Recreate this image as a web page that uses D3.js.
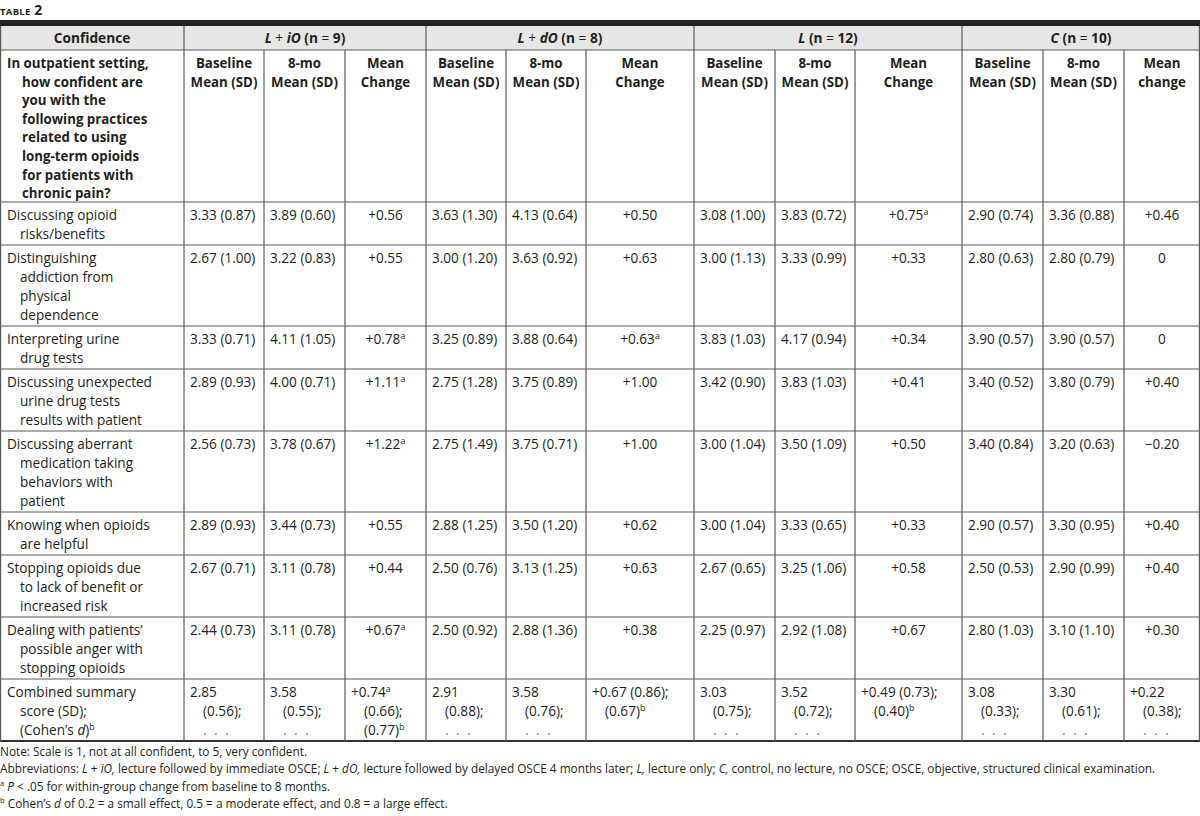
<!DOCTYPE html>
<html>
<head>
<meta charset="utf-8">
<script src="https://cdn.jsdelivr.net/npm/d3@7"></script>
<style>
  body { margin: 0; background: #fff; }
  svg { display: block; font-family: 'Open Sans', sans-serif; }
</style>
</head>
<body>
<svg id="chart" width="1200" height="816"></svg>
<script>
// ---- data ----
var groups = ['L + iO', 'L + dO', 'L', 'C'];
var groupN = [9, 8, 12, 10];

var practices = [
  ['Discussing opioid', 'risks/benefits'],
  ['Distinguishing', 'addiction from', 'physical', 'dependence'],
  ['Interpreting urine', 'drug tests'],
  ['Discussing unexpected', 'urine drug tests', 'results with patient'],
  ['Discussing aberrant', 'medication taking', 'behaviors with', 'patient'],
  ['Knowing when opioids', 'are helpful'],
  ['Stopping opioids due', 'to lack of benefit or', 'increased risk'],
  ['Dealing with patients\u2019', 'possible anger with', 'stopping opioids']
];

var question = ['In outpatient setting,', 'how confident are', 'you with the',
  'following practices', 'related to using', 'long-term opioids',
  'for patients with', 'chronic pain?'];

// L + iO
var liO_base = [3.33, 2.67, 3.33, 2.89, 2.56, 2.89, 2.67, 2.44];
var liO_baseSD = [0.87, 1.00, 0.71, 0.93, 0.73, 0.93, 0.71, 0.73];
var liO_mo8 = [3.89, 3.22, 4.11, 4.00, 3.78, 3.44, 3.11, 3.11];
var liO_mo8SD = [0.60, 0.83, 1.05, 0.71, 0.67, 0.73, 0.78, 0.78];
var liO_change = [0.56, 0.55, 0.78, 1.11, 1.22, 0.55, 0.44, 0.67];
var liO_sig = [0, 0, 1, 1, 1, 0, 0, 1];
// L + dO
var ldO_base = [3.63, 3.00, 3.25, 2.75, 2.75, 2.88, 2.50, 2.50];
var ldO_baseSD = [1.30, 1.20, 0.89, 1.28, 1.49, 1.25, 0.76, 0.92];
var ldO_mo8 = [4.13, 3.63, 3.88, 3.75, 3.75, 3.50, 3.13, 2.88];
var ldO_mo8SD = [0.64, 0.92, 0.64, 0.89, 0.71, 1.20, 1.25, 1.36];
var ldO_change = [0.50, 0.63, 0.63, 1.00, 1.00, 0.62, 0.63, 0.38];
var ldO_sig = [0, 0, 1, 0, 0, 0, 0, 0];
// L
var l_base = [3.08, 3.00, 3.83, 3.42, 3.00, 3.00, 2.67, 2.25];
var l_baseSD = [1.00, 1.13, 1.03, 0.90, 1.04, 1.04, 0.65, 0.97];
var l_mo8 = [3.83, 3.33, 4.17, 3.83, 3.50, 3.33, 3.25, 2.92];
var l_mo8SD = [0.72, 0.99, 0.94, 1.03, 1.09, 0.65, 1.06, 1.08];
var l_change = [0.75, 0.33, 0.34, 0.41, 0.50, 0.33, 0.58, 0.67];
var l_sig = [1, 0, 0, 0, 0, 0, 0, 0];
// C
var c_base = [2.90, 2.80, 3.90, 3.40, 3.40, 2.90, 2.50, 2.80];
var c_baseSD = [0.74, 0.63, 0.57, 0.52, 0.84, 0.57, 0.53, 1.03];
var c_mo8 = [3.36, 2.80, 3.90, 3.80, 3.20, 3.30, 2.90, 3.10];
var c_mo8SD = [0.88, 0.79, 0.57, 0.79, 0.63, 0.95, 0.99, 1.10];
var c_change = [0.46, 0, 0, 0.40, -0.20, 0.40, 0.40, 0.30];
var c_sig = [0, 0, 0, 0, 0, 0, 0, 0];

// combined summary score, one value per group
var sum_base = [2.85, 2.91, 3.03, 3.08];
var sum_baseSD = [0.56, 0.88, 0.75, 0.33];
var sum_mo8 = [3.58, 3.58, 3.52, 3.30];
var sum_mo8SD = [0.55, 0.76, 0.72, 0.61];
var sum_change = [0.74, 0.67, 0.49, 0.22];
var sum_changeSD = [0.66, 0.86, 0.73, 0.38];
var sum_cohen = [0.77, 0.67, 0.40, null];
var sum_sig = [1, 0, 0, 0];

var groupData = [
  {base: liO_base, baseSD: liO_baseSD, mo8: liO_mo8, mo8SD: liO_mo8SD, change: liO_change, sig: liO_sig},
  {base: ldO_base, baseSD: ldO_baseSD, mo8: ldO_mo8, mo8SD: ldO_mo8SD, change: ldO_change, sig: ldO_sig},
  {base: l_base, baseSD: l_baseSD, mo8: l_mo8, mo8SD: l_mo8SD, change: l_change, sig: l_sig},
  {base: c_base, baseSD: c_baseSD, mo8: c_mo8, mo8SD: c_mo8SD, change: c_change, sig: c_sig}
];

var notes = [
  [{t: 'Note: Scale is 1, not at all confident, to 5, very confident.'}],
  [{t: 'Abbreviations: '}, {t: 'L', it: 1}, {t: ' + '}, {t: 'iO,', it: 1}, {t: ' lecture followed by immediate OSCE; '},
   {t: 'L', it: 1}, {t: ' + '}, {t: 'dO,', it: 1}, {t: ' lecture followed by delayed OSCE 4 months later; '},
   {t: 'L,', it: 1}, {t: ' lecture only; '}, {t: 'C,', it: 1},
   {t: ' control, no lecture, no OSCE; OSCE, objective, structured clinical examination.'}],
  [{t: 'a', sup: 1}, {t: ' '}, {t: 'P', it: 1}, {t: ' < .05 for within-group change from baseline to 8 months.'}],
  [{t: 'b', sup: 1}, {t: ' Cohen\u2019s '}, {t: 'd', it: 1}, {t: ' of 0.2 = a small effect, 0.5 = a moderate effect, and 0.8 = a large effect.'}]
];

// ---- layout ----
var colW = [184, 80, 81, 81, 80, 80, 108, 81, 80, 107, 81, 81, 76];
var colX = [0].concat(Array.from(d3.cumsum(colW)));
var lineH = 19;
var ink = '#231f20';
var grid = '#5a5a5a';
var fs = 13.6;   // body text
var fsB = 13.3;  // bold header text

var svg = d3.select('#chart');

var fmt = d3.format('.2f');
var fmtChange = function(v) {
  if (v === 0) return '0';
  return (v > 0 ? '+' : '\u2212') + fmt(Math.abs(v));
};

var addLine = function(sel, x, y, segs, anchor, size, bold) {
  var t = sel.append('text')
    .attr('x', x).attr('y', y)
    .attr('text-anchor', anchor || 'start')
    .style('font-size', size + 'px')
    .style('font-weight', bold ? 700 : 400)
    .attr('fill', ink);
  var up = false;
  segs.forEach(function(s) {
    if (typeof s === 'string') s = {t: s};
    var ts = t.append('tspan').text(s.t);
    if (s.it) ts.style('font-style', 'italic');
    if (s.light) ts.style('font-weight', 400);
    if (s.dots) ts.attr('fill', '#777').style('letter-spacing', '2px');
    if (s.sup) {
      ts.attr('dy', -5).style('font-size', (size * 0.65) + 'px');
      up = true;
    } else if (up) {
      ts.attr('dy', 5);
      up = false;
    }
  });
  return t;
};

// title
var title = svg.append('text').attr('x', 0).attr('y', 15).attr('fill', ink).style('font-weight', 700);
title.append('tspan').text('TABLE').style('font-size', '9.5px').style('letter-spacing', '0.3px');
title.append('tspan').text(' 2').style('font-size', '14px');

// thick top rule
svg.append('rect').attr('x', 0).attr('y', 20).attr('width', 1200).attr('height', 6).attr('fill', ink);

// row geometry
var h1Top = 26, h1H = 24;
var h2Top = h1Top + h1H, h2H = question.length * lineH;
var bodyRows = practices.map(function(p) { return p.length; }).concat([3]);
var rowH = bodyRows.map(function(n) { return n * lineH + 5; });
var rowTop = [h2Top + h2H].concat(Array.from(d3.cumsum(rowH)).map(function(v) { return v + h2Top + h2H; }));
var tableBottom = rowTop[rowTop.length - 1];

// header 1 background
svg.append('rect').attr('x', 0).attr('y', h1Top).attr('width', 1200).attr('height', h1H).attr('fill', '#e6e6e6');

var gLines = svg.append('g').attr('stroke', grid).attr('stroke-width', 1.2);
// horizontal lines
[h2Top].concat(rowTop.slice(0, -1)).forEach(function(y) {
  gLines.append('line').attr('x1', 0).attr('x2', 1200).attr('y1', y).attr('y2', y);
});
gLines.append('line').attr('x1', 0).attr('x2', 1200).attr('y1', tableBottom).attr('y2', tableBottom)
  .attr('stroke', '#333').attr('stroke-width', 1.8);
// vertical lines
colX.forEach(function(x, i) {
  var xx = i === 0 ? 0.6 : (i === colX.length - 1 ? 1199.4 : x);
  var groupEdge = i === 0 || i === colX.length - 1 || (i - 1) % 3 === 0;
  gLines.append('line').attr('x1', xx).attr('x2', xx)
    .attr('y1', groupEdge ? h1Top : h2Top).attr('y2', tableBottom);
});

// header row 1
addLine(svg, colW[0] / 2, h1Top + 17, ['Confidence'], 'middle', fsB + 0.4, true);
groups.forEach(function(g, gi) {
  var x0 = colX[1 + gi * 3], x1 = colX[4 + gi * 3];
  var parts = g.split(' + ');
  var segs = [{t: parts[0], it: 1}];
  if (parts[1]) segs.push({t: ' + ', light: 1}, {t: parts[1], it: 1});
  segs.push({t: ' (n '}, {t: '=', light: 1}, {t: ' ' + groupN[gi] + ')'});
  addLine(svg, (x0 + x1) / 2, h1Top + 17, segs, 'middle', fsB + 0.4, true);
});

// header row 2
question.forEach(function(q, i) {
  addLine(svg, i === 0 ? 7 : 22, h2Top + 18 + i * 18.6, [q], 'start', fsB, true);
});
groups.forEach(function(g, gi) {
  var subs = [['Baseline', 'Mean (SD)'], ['8-mo', 'Mean (SD)'], ['Mean', gi === 3 ? 'change' : 'Change']];
  subs.forEach(function(s, si) {
    var c = 1 + gi * 3 + si;
    var cx = (colX[c] + colX[c + 1]) / 2;
    s.forEach(function(line, li) {
      addLine(svg, cx, h2Top + 18 + li * 18.6, [line], 'middle', fsB, true);
    });
  });
});

// body rows
practices.forEach(function(p, r) {
  var y0 = rowTop[r] + 18;
  p.forEach(function(line, li) {
    addLine(svg, li === 0 ? 7 : 20, y0 + li * lineH, [line], 'start', fs, false);
  });
  groupData.forEach(function(gd, gi) {
    var c = 1 + gi * 3;
    addLine(svg, colX[c] + 6, y0, [fmt(gd.base[r]) + ' (' + fmt(gd.baseSD[r]) + ')'], 'start', fs, false);
    addLine(svg, colX[c + 1] + 6, y0, [fmt(gd.mo8[r]) + ' (' + fmt(gd.mo8SD[r]) + ')'], 'start', fs, false);
    var segs = [fmtChange(gd.change[r])];
    if (gd.sig[r]) segs.push({t: 'a', sup: 1});
    addLine(svg, (colX[c + 2] + colX[c + 3]) / 2, y0, segs, 'middle', fs, false);
  });
});

// combined summary row
var sr = practices.length;
var sy = rowTop[sr] + 18;
addLine(svg, 7, sy, ['Combined summary'], 'start', fs, false);
addLine(svg, 20, sy + lineH, ['score (SD);'], 'start', fs, false);
addLine(svg, 20, sy + 2 * lineH, ['(Cohen\u2019s ', {t: 'd', it: 1}, ')', {t: 'b', sup: 1}], 'start', fs, false);
var dots = {t: '. . .', dots: 1};
groups.forEach(function(g, gi) {
  var c = 1 + gi * 3;
  [[sum_base, sum_baseSD], [sum_mo8, sum_mo8SD]].forEach(function(pair, k) {
    var x = colX[c + k] + 6;
    addLine(svg, x, sy, [fmt(pair[0][gi])], 'start', fs, false);
    addLine(svg, x + 13, sy + lineH, ['(' + fmt(pair[1][gi]) + ');'], 'start', fs, false);
    addLine(svg, x + 13, sy + 2 * lineH, [dots], 'start', fs, false);
  });
  var x = colX[c + 2] + 6;
  var first = [fmtChange(sum_change[gi])];
  if (sum_sig[gi]) first.push({t: 'a', sup: 1});
  var sdTxt = '(' + fmt(sum_changeSD[gi]) + ');';
  var cohen = sum_cohen[gi] == null ? [dots] : ['(' + fmt(sum_cohen[gi]) + ')', {t: 'b', sup: 1}];
  var lines;
  if (colW[c + 2] > 100) {
    lines = [first.concat([' ' + sdTxt]), cohen];
  } else {
    lines = [first, [sdTxt], cohen];
  }
  lines.forEach(function(l, li) {
    addLine(svg, li === 0 ? x : x + 13, sy + li * lineH, l, 'start', fs, false);
  });
});

// footnotes
notes.forEach(function(n, i) {
  addLine(svg, 0, tableBottom + 15 + i * 17.3, n, 'start', 11.8, false);
});
</script>
</body>
</html>
